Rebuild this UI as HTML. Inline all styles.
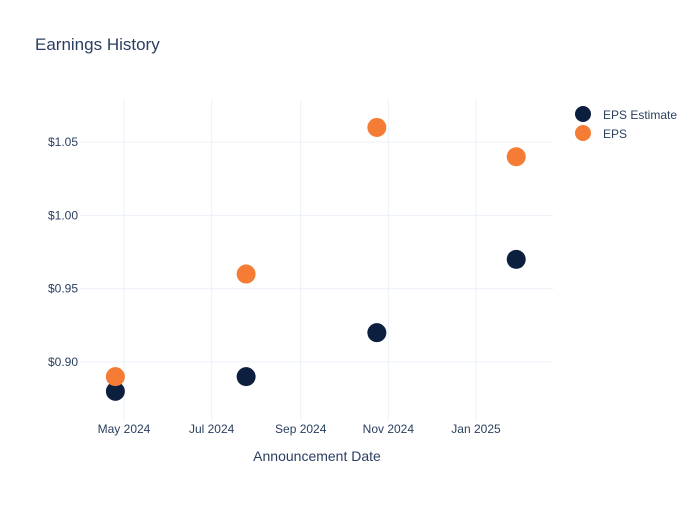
<!DOCTYPE html>
<html><head><meta charset="utf-8"><style>
body{margin:0;background:#fff;font-family:"Liberation Sans",sans-serif}
svg text{font-family:"Liberation Sans",sans-serif;fill:#2a3f5f}
</style></head><body>
<svg width="700" height="500" id="c">
<rect width="700" height="500" fill="#fff"/>
<text x="35" y="50" font-size="17">Earnings History</text>
<g id="grid"></g><g id="ticks"></g><g id="marks"></g>
<text x="317" y="461" font-size="14" text-anchor="middle">Announcement Date</text>
<g>
<g><circle cx="583" cy="114" r="8" fill="#0d1f3f"/><text x="603" y="119" font-size="12">EPS Estimate</text></g>
<g><circle cx="583" cy="133" r="8" fill="#f57c35"/><text x="603" y="138" font-size="12">EPS</text></g>
</g>
</svg>
<script>
const dates=["2024-04-25","2024-07-25","2024-10-24","2025-01-29"];
const estimates=[0.88,0.89,0.92,0.97];
const eps=[0.89,0.96,1.06,1.04];
const yTicks=[0.90,0.95,1.00,1.05];
const yTickLabels=["$0.90","$0.95","$1.00","$1.05"];
const xTicks=["2024-05-01","2024-07-01","2024-09-01","2024-11-01","2025-01-01"];
const xTickLabels=["May 2024","Jul 2024","Sep 2024","Nov 2024","Jan 2025"];
const NS="http://www.w3.org/2000/svg";
const L=80,R=553,T=100,B=420;
const d0=Date.parse("2024-05-01"),d1=Date.parse("2025-01-01");
function x(d){return 124+(Date.parse(d)-d0)/(d1-d0)*352;}
function y(v){return 362-(v-0.90)/0.05*73.3;}
function mk(t,a,p){const e=document.createElementNS(NS,t);for(const k in a)e.setAttribute(k,a[k]);p.appendChild(e);return e;}
const g=document.getElementById('grid'),tk=document.getElementById('ticks'),m=document.getElementById('marks');
yTicks.forEach((v,i)=>{
 const l=mk('line',{x1:L,x2:R,y1:y(v),y2:y(v),stroke:'#ebf0f8'},g);
 
 
 const t=mk('text',{x:L-2,y:y(v)+4,'font-size':12,'text-anchor':'end'},tk);t.textContent=yTickLabels[i];
 
 
});
xTicks.forEach((d,i)=>{
 const l=mk('line',{x1:x(d),x2:x(d),y1:T,y2:B,stroke:'#ebf0f8'},g);
 
 
 const t=mk('text',{x:x(d),y:B+13,'font-size':12,'text-anchor':'middle'},tk);t.textContent=xTickLabels[i];
 
 
});
dates.forEach((d,i)=>{
 const c=mk('circle',{cx:x(d),cy:y(estimates[i]),r:9.5,fill:'#0d1f3f'},m);
 
 
});
dates.forEach((d,i)=>{
 const c=mk('circle',{cx:x(d),cy:y(eps[i]),r:9.5,fill:'#f57c35'},m);
 
 
});
</script>
</body></html>
